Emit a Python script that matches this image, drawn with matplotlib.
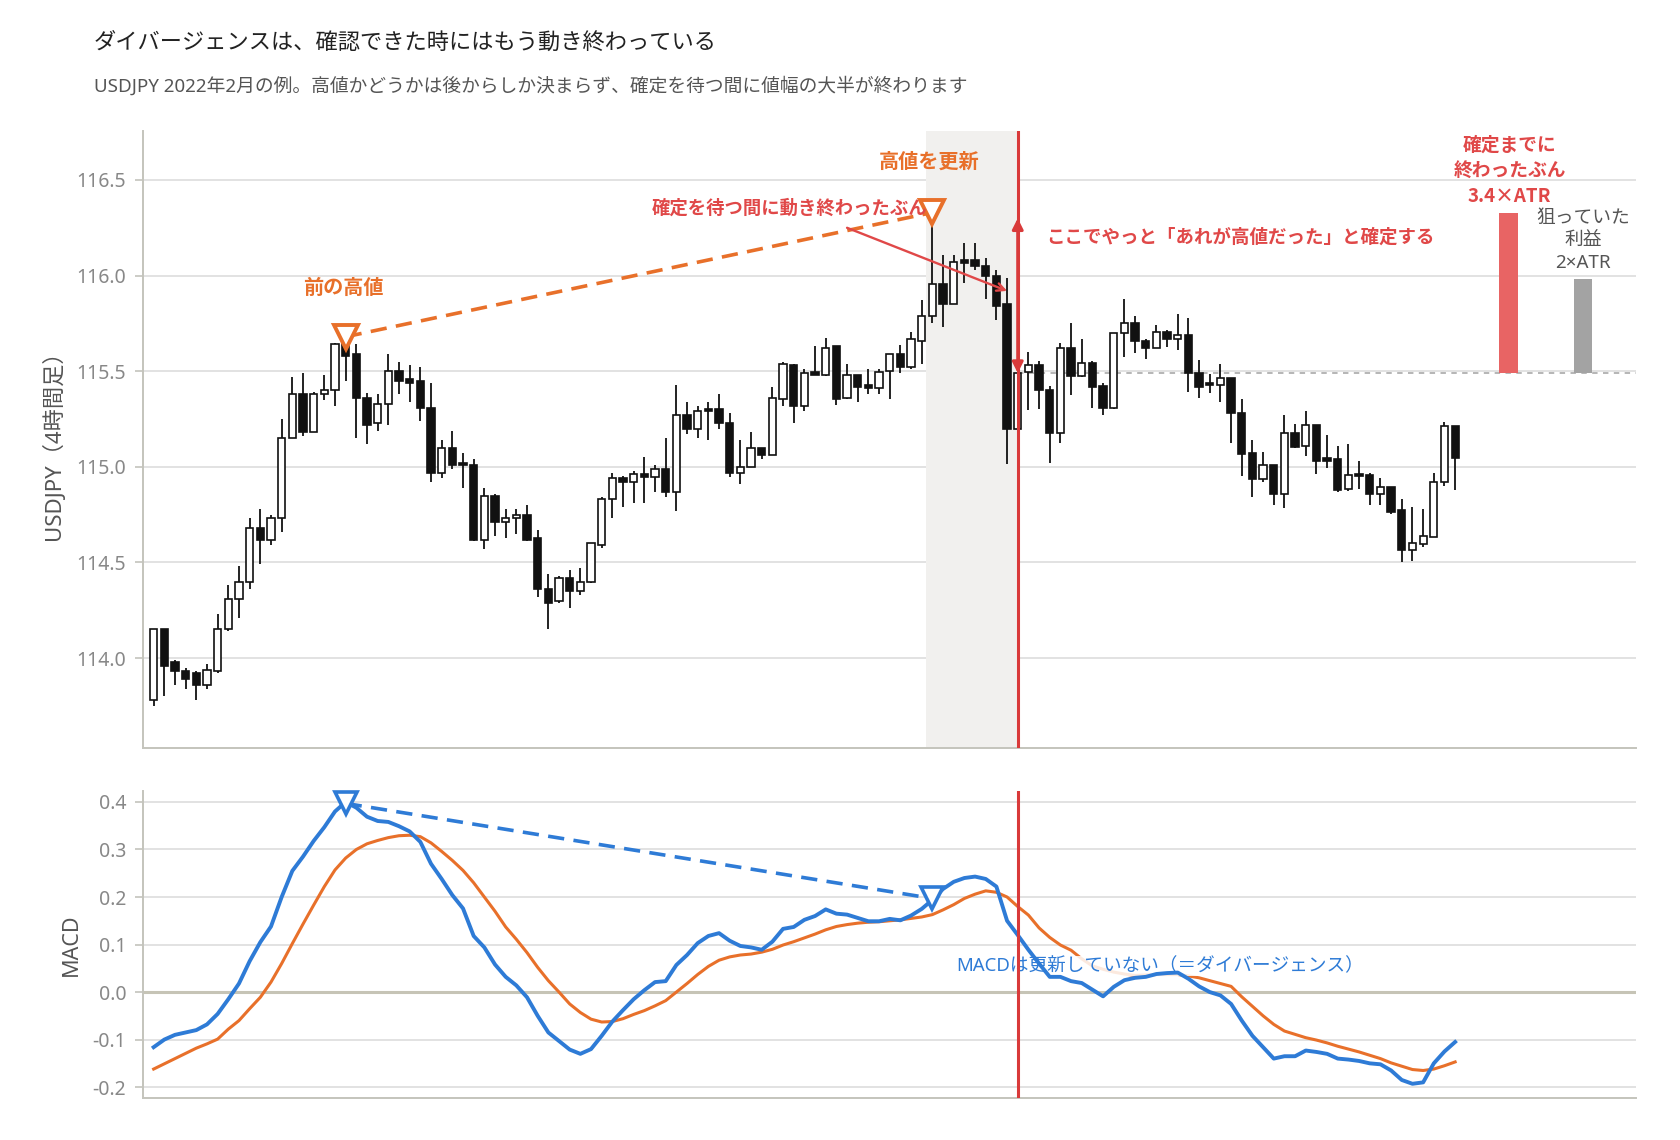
import numpy as np
import matplotlib.pyplot as plt

plt.rcParams['font.family'] = ['Noto Sans', 'Noto Sans CJK JP', 'DejaVu Sans']
plt.rcParams['axes.unicode_minus'] = False

# --- data (USDJPY 4h, Feb 2022) ---
opens = [113.78, 114.15, 113.98, 113.93, 113.92, 113.86, 113.93, 114.15, 114.31, 114.40,
         114.68, 114.62, 114.73, 115.15, 115.38, 115.18, 115.38, 115.40, 115.64, 115.59,
         115.36, 115.23, 115.33, 115.50, 115.46, 115.45, 115.31, 114.97, 115.10, 115.02,
         115.01, 114.62, 114.85, 114.71, 114.73, 114.75, 114.63, 114.36, 114.30, 114.42,
         114.35, 114.40, 114.59, 114.83, 114.94, 114.92, 114.96, 114.945, 114.99, 114.87,
         115.27, 115.20, 115.30, 115.30, 115.23, 114.97, 115.00, 115.10, 115.06, 115.355,
         115.535, 115.32, 115.495, 115.48, 115.63, 115.36, 115.48, 115.43, 115.41, 115.50,
         115.59, 115.52, 115.66, 115.79, 115.955, 115.85, 116.08, 116.08, 116.05, 116.00,
         115.85, 115.20, 115.495, 115.53, 115.40, 115.175, 115.62, 115.475, 115.545, 115.425,
         115.31, 115.70, 115.75, 115.66, 115.62, 115.705, 115.67, 115.69, 115.49, 115.44,
         115.43, 115.465, 115.28, 115.07, 114.935, 115.01, 114.856, 115.177, 115.108, 115.22,
         115.047, 115.04, 114.882, 114.965, 114.957, 114.856, 114.896, 114.773, 114.566, 114.596,
         114.635, 114.92, 115.215]
highs = [114.15, 114.15, 113.99, 113.95, 113.93, 113.97, 114.23, 114.38, 114.48, 114.73,
         114.78, 114.75, 115.25, 115.47, 115.49, 115.39, 115.48, 115.65, 115.65, 115.64,
         115.385, 115.38, 115.59, 115.55, 115.53, 115.52, 115.44, 115.14, 115.19, 115.07,
         115.04, 114.89, 114.86, 114.78, 114.78, 114.80, 114.67, 114.44, 114.43, 114.46,
         114.47, 114.60, 114.84, 114.97, 114.95, 114.98, 115.05, 115.01, 115.15, 115.43,
         115.34, 115.32, 115.34, 115.38, 115.28, 115.14, 115.18, 115.10, 115.42, 115.55,
         115.54, 115.51, 115.63, 115.675, 115.63, 115.54, 115.48, 115.51, 115.51, 115.59,
         115.635, 115.705, 115.875, 116.30, 116.11, 116.11, 116.17, 116.17, 116.09, 116.03,
         115.99, 115.50, 115.60, 115.556, 115.425, 115.65, 115.75, 115.67, 115.552, 115.436,
         115.70, 115.877, 115.787, 115.67, 115.74, 115.714, 115.80, 115.78, 115.56, 115.483,
         115.538, 115.465, 115.356, 115.14, 115.076, 115.01, 115.27, 115.226, 115.29, 115.22,
         115.168, 115.108, 115.12, 115.03, 114.97, 114.943, 114.896, 114.83, 114.79, 114.778,
         114.97, 115.234, 115.215]
lows = [113.75, 113.80, 113.86, 113.84, 113.78, 113.84, 113.92, 114.14, 114.21, 114.36,
        114.49, 114.59, 114.66, 115.15, 115.16, 115.18, 115.35, 115.32, 115.45, 115.15,
        115.12, 115.19, 115.22, 115.38, 115.34, 115.24, 114.92, 114.94, 114.99, 114.89,
        114.61, 114.57, 114.64, 114.63, 114.65, 114.61, 114.32, 114.15, 114.29, 114.26,
        114.33, 114.39, 114.575, 114.735, 114.79, 114.81, 114.81, 114.87, 114.84, 114.77,
        115.17, 115.15, 115.14, 115.20, 114.945, 114.91, 115.00, 115.04, 115.06, 115.32,
        115.23, 115.29, 115.48, 115.475, 115.325, 115.355, 115.34, 115.38, 115.38, 115.355,
        115.49, 115.51, 115.54, 115.75, 115.73, 115.85, 115.96, 116.03, 115.88, 115.77,
        115.015, 115.20, 115.295, 115.30, 115.02, 115.126, 115.375, 115.47, 115.31, 115.27,
        115.30, 115.573, 115.596, 115.564, 115.62, 115.627, 115.61, 115.39, 115.36, 115.387,
        115.338, 115.126, 114.95, 114.84, 114.92, 114.80, 114.786, 115.10, 115.056, 114.96,
        114.995, 114.87, 114.873, 114.885, 114.80, 114.80, 114.755, 114.50, 114.505, 114.58,
        114.635, 114.90, 114.877]
closes = [114.15, 113.96, 113.93, 113.89, 113.86, 113.94, 114.15, 114.31, 114.40, 114.68,
          114.62, 114.73, 115.15, 115.38, 115.18, 115.38, 115.40, 115.64, 115.58, 115.36,
          115.22, 115.33, 115.50, 115.45, 115.44, 115.31, 114.97, 115.10, 115.01, 115.01,
          114.62, 114.85, 114.71, 114.73, 114.75, 114.62, 114.36, 114.29, 114.42, 114.35,
          114.40, 114.60, 114.83, 114.94, 114.92, 114.96, 114.945, 114.99, 114.87, 115.27,
          115.20, 115.29, 115.29, 115.23, 114.97, 115.00, 115.10, 115.06, 115.36, 115.54,
          115.32, 115.49, 115.48, 115.62, 115.355, 115.48, 115.42, 115.41, 115.495, 115.59,
          115.52, 115.667, 115.79, 115.955, 115.85, 116.07, 116.065, 116.05, 116.00, 115.84,
          115.20, 115.49, 115.53, 115.40, 115.175, 115.62, 115.475, 115.545, 115.42, 115.31,
          115.70, 115.75, 115.66, 115.62, 115.705, 115.67, 115.69, 115.49, 115.42, 115.43,
          115.465, 115.28, 115.065, 114.935, 115.01, 114.856, 115.177, 115.104, 115.217, 115.033,
          115.033, 114.88, 114.957, 114.951, 114.856, 114.894, 114.766, 114.564, 114.60, 114.64,
          114.92, 115.215, 115.047]

macd = [-0.116, -0.100, -0.090, -0.085, -0.080, -0.068, -0.046, -0.015, 0.018, 0.065,
        0.105, 0.138, 0.200, 0.255, 0.285, 0.318, 0.347, 0.380, 0.400, 0.388,
        0.369, 0.360, 0.358, 0.349, 0.338, 0.316, 0.270, 0.238, 0.204, 0.176,
        0.118, 0.094, 0.058, 0.032, 0.014, -0.011, -0.050, -0.085, -0.103, -0.121,
        -0.130, -0.120, -0.092, -0.062, -0.038, -0.015, 0.004, 0.021, 0.023, 0.057,
        0.078, 0.103, 0.118, 0.124, 0.108, 0.097, 0.094, 0.089, 0.106, 0.133,
        0.137, 0.152, 0.160, 0.174, 0.165, 0.163, 0.156, 0.149, 0.149, 0.154,
        0.151, 0.161, 0.175, 0.194, 0.217, 0.232, 0.240, 0.243, 0.238, 0.222,
        0.150, 0.120, 0.089, 0.060, 0.032, 0.032, 0.023, 0.019, 0.005, -0.009,
        0.011, 0.025, 0.030, 0.032, 0.038, 0.040, 0.041, 0.028, 0.012, 0.000,
        -0.007, -0.025, -0.060, -0.092, -0.116, -0.140, -0.135, -0.135, -0.123, -0.126,
        -0.130, -0.140, -0.142, -0.145, -0.150, -0.152, -0.165, -0.185, -0.193, -0.190,
        -0.150, -0.125, -0.105]
signal = [-0.162, -0.151, -0.140, -0.129, -0.118, -0.109, -0.099, -0.078, -0.060, -0.035,
          -0.011, 0.021, 0.060, 0.102, 0.143, 0.183, 0.222, 0.257, 0.282, 0.300,
          0.312, 0.319, 0.325, 0.329, 0.330, 0.327, 0.314, 0.296, 0.277, 0.256,
          0.230, 0.200, 0.170, 0.137, 0.111, 0.083, 0.052, 0.024, 0.000, -0.025,
          -0.043, -0.057, -0.063, -0.062, -0.056, -0.047, -0.039, -0.029, -0.018, 0.000,
          0.018, 0.037, 0.054, 0.067, 0.074, 0.078, 0.080, 0.084, 0.090, 0.099,
          0.106, 0.114, 0.122, 0.131, 0.138, 0.142, 0.145, 0.147, 0.148, 0.150,
          0.152, 0.155, 0.158, 0.163, 0.173, 0.184, 0.197, 0.206, 0.213, 0.210,
          0.200, 0.180, 0.162, 0.135, 0.115, 0.099, 0.088, 0.070, 0.055, 0.048,
          0.042, 0.038, 0.035, 0.036, 0.037, 0.037, 0.037, 0.034, 0.030, 0.024,
          0.018, 0.012, -0.010, -0.030, -0.050, -0.068, -0.082, -0.089, -0.096, -0.101,
          -0.107, -0.114, -0.120, -0.126, -0.133, -0.140, -0.149, -0.156, -0.163, -0.165,
          -0.162, -0.155, -0.147]

prev_high_idx = 18      # 前の高値
new_high_idx = 73       # 高値を更新
confirm_idx = 81        # 確定した足
atr = 0.246
atr_mults = [3.4, 2.0]  # 終わったぶん / 狙っていた利益
bar_pos = [127, 134]
price_ticks = [114.0, 114.5, 115.0, 115.5, 116.0, 116.5]
macd_ticks = [-0.2, -0.1, 0.0, 0.1, 0.2, 0.3, 0.4]

# colours
ORANGE = '#e8702a'
RED = '#d93a3a'
RED_TXT = '#e04848'
RED_BAR = '#e86464'
BLUE = '#2e7bd6'
GRID = '#dddddd'
SPINE = '#c4c4bc'
TICK_TXT = '#888888'
CJK = ['Noto Sans CJK JP', 'DejaVu Sans']

x = np.arange(len(closes))
o = np.array(opens); h = np.array(highs); l = np.array(lows); c = np.array(closes)
XMAX = 139

fig = plt.figure(figsize=(16.8, 11.4), dpi=100)
ax = fig.add_axes([0.0851, 0.3439, 0.889, 0.541])
ax2 = fig.add_axes([0.0851, 0.0368, 0.889, 0.2693])

for a in (ax, ax2):
    for s in ('top', 'right'):
        a.spines[s].set_visible(False)
    for s in ('left', 'bottom'):
        a.spines[s].set_color(SPINE)
        a.spines[s].set_linewidth(1.4)
    a.set_xlim(-1, XMAX)
    a.set_xticks([])
    a.tick_params(axis='y', colors=SPINE, labelcolor=TICK_TXT, labelsize=14,
                  length=6, width=1.2, pad=6)
    a.set_axisbelow(True)

# --- price panel ---
ax.set_ylim(113.53, 116.755)
ax.set_yticks(price_ticks)
ax.set_yticklabels([f'{t:.1f}' for t in price_ticks])
for t in price_ticks:
    ax.axhline(t, color=GRID, lw=1.2, zorder=0)

ax.axvspan(72.4, confirm_idx, color='#f1f0ee', zorder=0.5, lw=0)

up = c >= o
ax.vlines(x, l, h, color='#111111', lw=1.3, zorder=2)
body_h = np.maximum(np.abs(c - o), 0.01)
body_b = np.minimum(o, c)
ax.bar(x[up], body_h[up], bottom=body_b[up], width=0.68, color='white',
       edgecolor='#111111', linewidth=1.2, zorder=3)
ax.bar(x[~up], body_h[~up], bottom=body_b[~up], width=0.68, color='#111111',
       edgecolor='#111111', linewidth=1.2, zorder=3)

# highs and the dashed line between them
tri_off = 0.03
hx = [prev_high_idx, new_high_idx]
hy = [h[prev_high_idx] + tri_off, h[new_high_idx] + tri_off]
ax.plot(hx, hy, color=ORANGE, lw=2.6, dashes=(4.5, 2.6), zorder=4)
ax.plot(hx, hy, ls='none', marker='v', ms=17, mfc='white', mec=ORANGE, mew=2.8, zorder=6)
ax.text(prev_high_idx - 0.2, 115.94, '前の高値', color=ORANGE, fontsize=14.5,
        fontweight='bold', ha='center', va='center', zorder=7, family=CJK)
ax.text(new_high_idx - 0.3, 116.6, '高値を更新', color=ORANGE, fontsize=14.5,
        fontweight='bold', ha='center', va='center', zorder=7, family=CJK)

# confirmation line and arrow
ax.axvline(confirm_idx, color=RED, lw=2.2, zorder=5)
ax.annotate('', xy=(confirm_idx, h[new_high_idx]), xytext=(confirm_idx, c[confirm_idx]),
            arrowprops=dict(arrowstyle='<|-|>', color=RED, lw=2.2,
                            mutation_scale=16, shrinkA=0, shrinkB=0), zorder=6)
ax.text(confirm_idx + 2.7, 116.2, 'ここでやっと「あれが高値だった」と確定する',
        color=RED_TXT, fontsize=13.3, fontweight='bold', ha='left', va='center',
        zorder=7, family=CJK)

ax.text(59.6, 116.35, '確定を待つ間に動き終わったぶん', color=RED_TXT, fontsize=13.2,
        fontweight='bold', ha='center', va='center', zorder=7, family=CJK)
ax.annotate('', xy=(80, 115.92), xytext=(65, 116.25),
            arrowprops=dict(arrowstyle='->', color=RED_TXT, lw=1.7,
                            mutation_scale=14, shrinkA=0, shrinkB=0), zorder=6)

# moved vs target bars
base = c[confirm_idx]
ax.hlines(base, confirm_idx, XMAX, color='#b0b0b0', lw=1.3, linestyles=(0, (3, 3)), zorder=1)
heights = [m * atr for m in atr_mults]
ax.bar(bar_pos, heights, bottom=base, width=1.7, color=[RED_BAR, '#a3a3a3'], zorder=3)
ax.text(bar_pos[0] + 0.1, base + heights[0] + 0.04, '確定までに\n終わったぶん\n3.4×ATR',
        color=RED_TXT, fontsize=13.5, fontweight='bold', ha='center', va='bottom',
        linespacing=1.42, zorder=7, family=CJK)
ax.text(bar_pos[1] + 0.0, base + heights[1] + 0.035, '狙っていた\n利益\n2×ATR',
        color='#555555', fontsize=13.5, ha='center', va='bottom', linespacing=1.35, zorder=7)

ax.set_ylabel('USDJPY（4時間足）', color='#555555', fontsize=16, labelpad=8)

# --- MACD panel ---
ax2.set_ylim(-0.223, 0.423)
ax2.set_yticks(macd_ticks)
ax2.set_yticklabels([f'{t:.1f}' for t in macd_ticks])
for t in macd_ticks:
    if t == 0:
        ax2.axhline(t, color='#c6c4b6', lw=2.2, zorder=0)
    else:
        ax2.axhline(t, color=GRID, lw=1.2, zorder=0)

ax2.plot(x, signal, color=ORANGE, lw=2.2, zorder=2)
ax2.text(75.2, 0.055, 'MACDは更新していない（＝ダイバージェンス）', color=BLUE,
         fontsize=13.4, ha='left', va='center', zorder=3,
         bbox=dict(boxstyle='square,pad=0.05', fc='white', ec='none', alpha=0.85))
ax2.plot(x, macd, color=BLUE, lw=2.8, zorder=4)
mx = [prev_high_idx, new_high_idx]
my = [macd[prev_high_idx] - 0.003, macd[new_high_idx] + 0.003]
ax2.plot(mx, my, color=BLUE, lw=2.6, dashes=(4.5, 2.6), zorder=4)
ax2.plot(mx, my, ls='none', marker='v', ms=16, mfc='white', mec=BLUE, mew=2.6,
         zorder=6, clip_on=False)
ax2.axvline(confirm_idx, color=RED, lw=2.2, zorder=5)
ax2.set_ylabel('MACD', color='#555555', fontsize=15.5, labelpad=8)

# titles
fig.text(0.0558, 0.962, 'ダイバージェンスは、確認できた時にはもう動き終わっている',
         fontsize=16, color='#222222', ha='left', va='center')
fig.text(0.0558, 0.9245,
         'USDJPY 2022年2月の例。高値かどうかは後からしか決まらず、確定を待つ間に値幅の大半が終わります',
         fontsize=13.5, color='#555555', ha='left', va='center')

fig.savefig('out.png', dpi=100)
